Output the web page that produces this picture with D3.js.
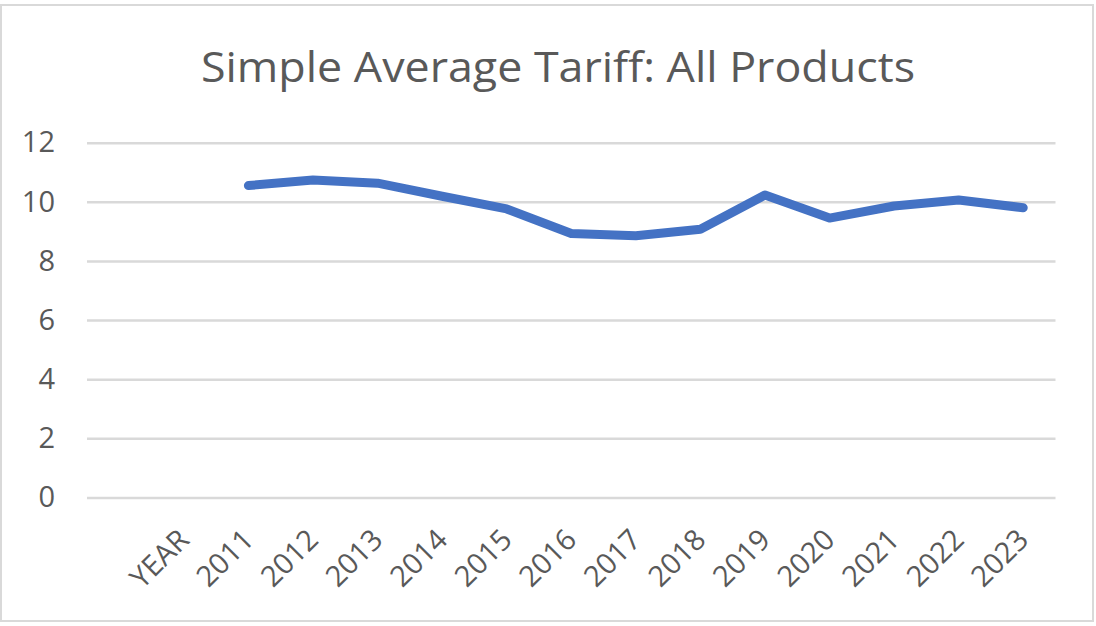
<!DOCTYPE html>
<html>
<head>
<meta charset="utf-8">
<script src="https://cdn.jsdelivr.net/npm/d3@7"></script>
<style>
  html, body { margin: 0; padding: 0; background: #fff; }
  svg { display: block; }
</style>
</head>
<body>
<div id="chart"></div>
<script>
//Data
const title = 'Simple Average Tariff: All Products';
const categories = ['', 'YEAR', '2011', '2012', '2013', '2014', '2015', '2016',
  '2017', '2018', '2019', '2020', '2021', '2022', '2023'];
const years = ['2011', '2012', '2013', '2014', '2015', '2016', '2017',
  '2018', '2019', '2020', '2021', '2022', '2023'];
const tariff = [10.55, 10.74, 10.63, 10.19, 9.76, 8.93, 8.85, 9.07, 10.23, 9.45, 9.86, 10.06, 9.80];
const yTicks = [0, 2, 4, 6, 8, 10, 12];

//Layout
const W = 1096, H = 626;
const plot = { left: 87, right: 1055.5, top: 142.7, bottom: 497.5 };
const textColor = '#595959';
const gridColor = '#d9d9d9';
const font = '"Open Sans", "Noto Sans", sans-serif';

const svg = d3.select('#chart').append('svg')
  .attr('width', W).attr('height', H);

// chart frame
svg.append('rect')
  .attr('x', 1).attr('y', 5).attr('width', 1092).attr('height', 616)
  .attr('fill', '#fff').attr('stroke', gridColor).attr('stroke-width', 2);

const x = d3.scaleBand().domain(categories).range([plot.left, plot.right]);
const y = d3.scaleLinear().domain([0, 12]).range([plot.bottom, plot.top]);
const cx = c => x(c) + x.bandwidth() / 2;

// Title
svg.append('text')
  .attr('x', 558).attr('y', 81.5)
  .attr('text-anchor', 'middle')
  .attr('font-family', font)
  .attr('font-size', 42)
  .attr('fill', textColor)
  .attr('textLength', 714)
  .attr('lengthAdjust', 'spacingAndGlyphs')
  .text(title);

// Gridlines + y labels
const yAxis = svg.append('g')
  .attr('transform', `translate(${plot.left},0)`)
  .call(d3.axisLeft(y).tickValues(yTicks)
    .tickSize(-(plot.right - plot.left)).tickPadding(32).tickFormat(d3.format('d')));
yAxis.select('.domain').remove();
yAxis.selectAll('.tick line').attr('stroke', gridColor).attr('stroke-width', 2.5);
yAxis.selectAll('.tick text')
  .attr('fill', textColor).attr('font-family', font).attr('font-size', 29);

// x labels (rotated)
svg.append('g')
  .selectAll('text')
  .data(categories.filter(c => c !== ''))
  .join('text')
  .attr('transform', d => `translate(${cx(d) + 7},${plot.bottom + 44}) rotate(-45)`)
  .attr('text-anchor', 'end')
  .attr('fill', textColor)
  .attr('font-family', font)
  .attr('font-size', 29)
  .text(d => d);

// Series line
const series = years.map((yr, i) => ({ c: yr, v: tariff[i] }));
svg.append('path')
  .datum(series)
  .attr('fill', 'none')
  .attr('stroke', '#4472C4')
  .attr('stroke-width', 9)
  .attr('stroke-linecap', 'round')
  .attr('stroke-linejoin', 'round')
  .attr('d', d3.line().x(d => cx(d.c)).y(d => y(d.v)));
</script>
</body>
</html>
